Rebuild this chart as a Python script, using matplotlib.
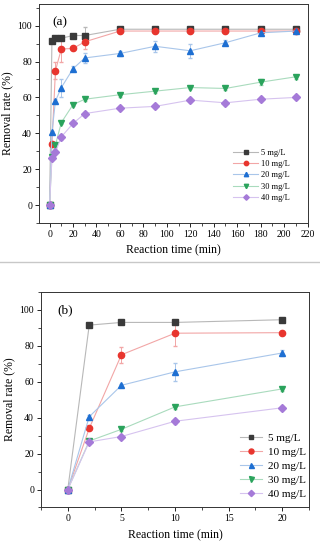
import matplotlib
matplotlib.use("Agg")
import matplotlib.pyplot as plt
from matplotlib.lines import Line2D
from matplotlib.ticker import MultipleLocator

plt.rcParams["font.family"] = ["Liberation Serif", "DejaVu Serif"]

labels = ["5 mg/L", "10 mg/L", "20 mg/L", "30 mg/L", "40 mg/L"]
time_a = [0, 2, 5, 10, 20, 30, 60, 90, 120, 150, 180, 210]
r5 = [0, 91.5, 93, 93, 94.5, 94.5, 98, 98, 98, 98, 98, 98]
r10 = [0, 34, 75, 87, 87.3, 91, 97, 97, 97, 97, 97, 97]
r20 = [0, 40.5, 58, 65.5, 76, 82, 84.5, 88.5, 86, 90.5, 96, 97]
r30 = [0, 27, 33.5, 46, 56, 59, 61.5, 63.5, 65.5, 65, 68.5, 71.5]
r40 = [0, 26.5, 29.5, 38, 45.5, 51, 54, 55, 58.5, 57, 59, 60]
e5 = [0, 0.5, 0.5, 0.5, 0.5, 5, 0.5, 0.5, 1, 0.5, 0.5, 0.5]
e10 = [0, 1, 4.5, 7, 1, 4, 1, 1, 1, 1, 1, 1]
e20 = [0, 1, 1, 5, 1.5, 3, 1.5, 3, 4, 1.5, 1, 1]
e30 = [0, 1, 1, 1, 1, 1, 1, 1, 1, 1, 1.5, 1]
e40 = [0, 1, 1, 1.5, 1, 1, 1, 1, 1, 1, 1, 1]
series = [r5, r10, r20, r30, r40]
errors = [e5, e10, e20, e30, e40]
n_b = 5  # panel (b) shows the first 20 min

markers = ["s", "o", "^", "v", "D"]
colors = ["#3a3a3a", "#e8352e", "#1e6fd2", "#2aa35c", "#a57ad8"]
line_colors = ["#b8b8b8", "#f2a6a6", "#a9c6ea", "#a9dbbd", "#d6c3ef"]
msizes = [4, 4.5, 4.5, 4.5, 4]

fig = plt.figure(figsize=(3.2, 5.5), dpi=100)
ax_a = fig.add_axes([0.122, 0.5945, 0.841, 0.398])
ax_b = fig.add_axes([0.128, 0.0773, 0.838, 0.392])


def draw(ax, t, n):
    for ys, es, m, c, lc, ms, lab in zip(series, errors, markers, colors,
                                         line_colors, msizes, labels):
        ax.errorbar(t[:n], ys[:n], yerr=es[:n], marker=m, color=lc,
                    mfc=c, mec=c, ms=ms, lw=0.8,
                    elinewidth=0.7, capsize=1.5)
    ax.set_ylabel("Removal rate (%)", fontsize=8.5, labelpad=3)
    ax.set_xlabel("Reaction time (min)", fontsize=8.5)
    ax.yaxis.set_major_locator(MultipleLocator(20))
    ax.yaxis.set_minor_locator(MultipleLocator(10))
    ax.tick_params(labelsize=7, width=0.6, length=3, pad=2)
    ax.tick_params(which="minor", width=0.5, length=2)
    for s in ax.spines.values():
        s.set_linewidth(0.7)
        s.set_color("#333333")


def handles(scale):
    return [Line2D([], [], marker=m, color=lc, mfc=c, mec=c, ms=ms * scale,
                   lw=0.8)
            for m, c, lc, ms in zip(markers, colors, line_colors, msizes)]


draw(ax_a, time_a, len(time_a))
ax_a.set_xlim(-9, 220.5)
ax_a.set_ylim(-10, 112)
ax_a.xaxis.set_major_locator(MultipleLocator(20))
ax_a.xaxis.set_minor_locator(MultipleLocator(10))
ax_a.legend(handles(0.7), labels, loc="upper left",
            bbox_to_anchor=(0.721, 0.34), fontsize=6,
            frameon=False, handlelength=3.0, labelspacing=0.4,
            handletextpad=0.4, borderaxespad=0, borderpad=0)
ax_a.text(0.05, 0.918, "(a)", transform=ax_a.transAxes, fontsize=9.5,
          va="center")

draw(ax_b, time_a, n_b)
ax_b.set_xlim(-2.5, 22.5)
ax_b.set_ylim(-10, 110)
ax_b.xaxis.set_major_locator(MultipleLocator(5))
ax_b.xaxis.set_minor_locator(MultipleLocator(2.5))
ax_b.legend(handles(0.8), labels, loc="upper left",
            bbox_to_anchor=(0.743, 0.345), fontsize=8,
            frameon=False, handlelength=2.0, labelspacing=0.38,
            handletextpad=0.5, borderaxespad=0, borderpad=0)
ax_b.text(0.063, 0.915, "(b)", transform=ax_b.transAxes, fontsize=9.5,
          va="center")

fig.add_artist(Line2D([0, 1], [1 - 262 / 550] * 2, color="#c8c8c8", lw=1,
                      transform=fig.transFigure))

fig.savefig("out.png", dpi=100)
